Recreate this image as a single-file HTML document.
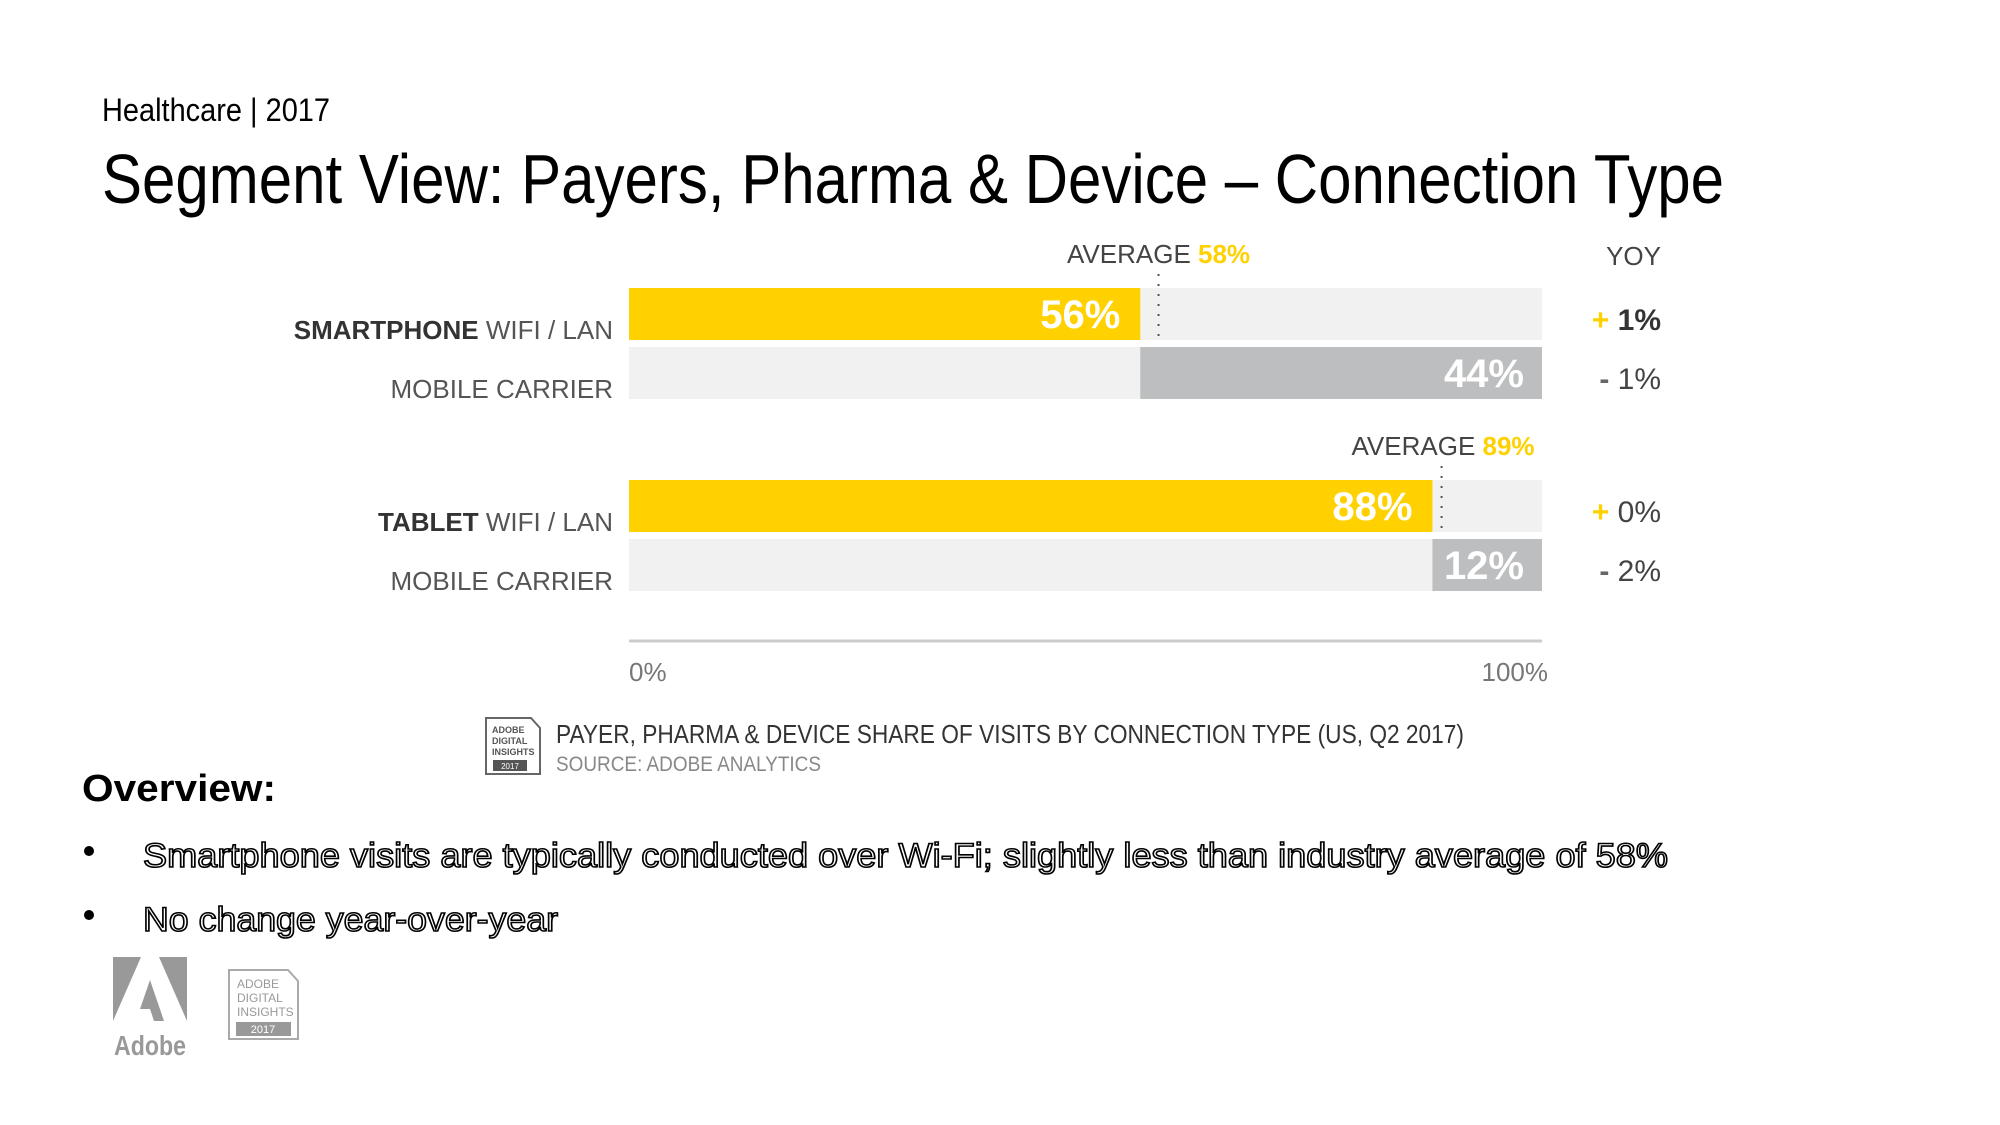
<!DOCTYPE html>
<html><head><meta charset="utf-8"><style>
html,body{margin:0;padding:0;background:#fff;}
svg{display:block;font-family:"Liberation Sans",sans-serif;}
</style></head><body>
<svg id="chart" width="2000" height="1125" viewBox="0 0 2000 1125" xmlns="http://www.w3.org/2000/svg">
<text x="102" y="121" font-size="32" fill="#000" textLength="228" lengthAdjust="spacingAndGlyphs">Healthcare | 2017</text>
<text x="102" y="203" font-size="70" fill="#000" textLength="1622" lengthAdjust="spacingAndGlyphs">Segment View: Payers, Pharma &amp; Device – Connection Type</text>
<text x="1661" y="265" font-size="26" fill="#444" text-anchor="end">YOY</text>
<g id="bars"></g>
<line x1="629" y1="641" x2="1542" y2="641" stroke="#ccc" stroke-width="3"/>
<g id="ticks"></g>
<g>
<path d="M486 718 H531 L540 728 V774 H486 Z" fill="#fff" stroke="#666" stroke-width="2"/>
<text x="492" y="733" font-size="9" font-weight="bold" fill="#555">ADOBE</text>
<text x="492" y="744" font-size="9" font-weight="bold" fill="#555">DIGITAL</text>
<text x="492" y="755" font-size="9" font-weight="bold" fill="#555">INSIGHTS</text>
<rect x="493" y="760" width="34" height="11" fill="#555"/>
<text x="510" y="769" font-size="8" fill="#fff" text-anchor="middle">2017</text>
</g>
<text x="556" y="743" font-size="26" fill="#333" textLength="908" lengthAdjust="spacingAndGlyphs">PAYER, PHARMA &amp; DEVICE SHARE OF VISITS BY CONNECTION TYPE (US, Q2 2017)</text>
<text x="556" y="771" font-size="21" fill="#888" textLength="265" lengthAdjust="spacingAndGlyphs">SOURCE: ADOBE ANALYTICS</text>
<text x="82" y="801" font-size="38" font-weight="bold" fill="#000" textLength="194" lengthAdjust="spacingAndGlyphs">Overview:</text>
<circle cx="89" cy="851" r="5" fill="#000"/>
<text x="143" y="867" font-size="34" fill="#fff" stroke="#000" stroke-width="1.6" textLength="1525" lengthAdjust="spacingAndGlyphs">Smartphone visits are typically conducted over Wi-Fi; slightly less than industry average of 58%</text>
<circle cx="89" cy="915" r="5" fill="#000"/>
<text x="143" y="931" font-size="34" fill="#fff" stroke="#000" stroke-width="1.6" textLength="415" lengthAdjust="spacingAndGlyphs">No change year-over-year</text>
<g transform="translate(0,-10)">
<polygon points="113,967 141,967 113,1031" fill="#999"/>
<polygon points="159,967 187,967 187,1031" fill="#999"/>
<polygon points="150,990 164,1031 154,1031 150,1019 140,1019 150,990" fill="#999"/>
<text x="150" y="1065" font-size="28" font-weight="bold" fill="#999" text-anchor="middle" textLength="72" lengthAdjust="spacingAndGlyphs">Adobe</text>
</g>
<g transform="translate(-2,-10)">
<path d="M231 980 H290 L300 991 V1049 H231 Z" fill="#fff" stroke="#aaa" stroke-width="2"/>
<text x="239" y="998" font-size="12" fill="#999">ADOBE</text>
<text x="239" y="1012" font-size="12" fill="#999">DIGITAL</text>
<text x="239" y="1026" font-size="12" fill="#999">INSIGHTS</text>
<rect x="238" y="1032" width="55" height="14" fill="#999"/>
<text x="265" y="1043" font-size="11" fill="#fff" text-anchor="middle">2017</text>
</g>
</svg>
<script>
const categories = ["SMARTPHONE", "TABLET"];
const wifiValues = [56, 88];
const carrierValues = [44, 12];
const averages = [58, 89];
const yoyWifi = ["+1%", "+0%"];
const yoyCarrier = ["-1%", "-2%"];
const tickLabels = ["0%", "100%"];
const tickValues = [0, 100];

const NS = "http://www.w3.org/2000/svg";
const X0 = 629, X1 = 1542;
function x(v){ return X0 + (X1 - X0) * v / 100; }
const groupTop = [288, 480];
const barH = 52, gap = 7;
const bars = document.getElementById('bars');
function mk(tag, attrs, text){
  const e = document.createElementNS(NS, tag);
  for (const k in attrs) e.setAttribute(k, attrs[k]);
  if (text !== undefined) e.textContent = text;
  bars.appendChild(e);
  return e;
}
categories.forEach((cat, i) => {
  const y1 = groupTop[i], y2 = y1 + barH + gap;
  let e;
  e = mk('rect', {x: X0, y: y1, width: X1 - X0, height: barH, fill: '#f0f1f0'});
  
  
  e = mk('rect', {x: X0, y: y1, width: x(wifiValues[i]) - X0, height: barH, fill: '#ffd100'});
  
  
  e = mk('text', {x: x(wifiValues[i]) - 20, y: y1 + 40, 'font-size': 40, 'font-weight': 'bold', fill: '#fff', 'text-anchor': 'end'}, wifiValues[i] + '%');
  
  
  e = mk('rect', {x: X0, y: y2, width: X1 - X0, height: barH, fill: '#f0f1f0'});
  
  
  e = mk('rect', {x: x(100 - carrierValues[i]), y: y2, width: X1 - x(100 - carrierValues[i]), height: barH, fill: '#bdbebf'});
  
  
  e = mk('text', {x: X1 - 18, y: y2 + 40, 'font-size': 40, 'font-weight': 'bold', fill: '#fff', 'text-anchor': 'end'}, carrierValues[i] + '%');
  
  
  e = mk('text', {x: 613, y: y1 + 51, 'font-size': 26, fill: '#555', 'text-anchor': 'end'});
  
  
  const b = document.createElementNS(NS, 'tspan'); b.setAttribute('font-weight', 'bold'); b.setAttribute('fill', '#333'); b.textContent = cat + ' ';
  const t = document.createElementNS(NS, 'tspan'); t.textContent = 'WIFI / LAN';
  e.appendChild(b); e.appendChild(t);
  e = mk('text', {x: 613, y: y2 + 51, 'font-size': 26, fill: '#555', 'text-anchor': 'end'}, 'MOBILE CARRIER');
  
  
  const ax = x(averages[i]);
  e = mk('line', {x1: ax, y1: y1 - 14, x2: ax, y2: y1 + barH, stroke: '#555', 'stroke-width': 2, 'stroke-dasharray': '2 8'});
  
  
  e = mk('text', {x: i === 0 ? ax : Math.min(ax + 93, X1), y: y1 - 25, 'font-size': 26, fill: '#444', 'text-anchor': i === 0 ? 'middle' : 'end'});
  
  
  const a1 = document.createElementNS(NS, 'tspan'); a1.textContent = 'AVERAGE ';
  const a2 = document.createElementNS(NS, 'tspan'); a2.setAttribute('fill', '#ffd100'); a2.setAttribute('font-weight', 'bold'); a2.textContent = averages[i] + '%';
  e.appendChild(a1); e.appendChild(a2);
  [[yoyWifi[i], y1], [yoyCarrier[i], y2]].forEach(([v, yy], j) => {
    e = mk('text', {x: 1661, y: yy + 42, 'font-size': 30, fill: '#444', 'text-anchor': 'end'});
    
    
    const s = document.createElementNS(NS, 'tspan');
    s.setAttribute('fill', v[0] === '+' ? '#ffd100' : '#666');
    s.setAttribute('font-weight', 'bold');
    s.textContent = (v[0] === '+' ? '+' : '-') + ' ';
    const n = document.createElementNS(NS, 'tspan');
    if (i === 0 && j === 0) { n.setAttribute('font-weight', 'bold'); n.setAttribute('fill', '#333'); }
    n.textContent = v.slice(1);
    e.appendChild(s); e.appendChild(n);
  });
});
const ticks = document.getElementById('ticks');
tickValues.forEach((v, i) => {
  const e = document.createElementNS(NS, 'text');
  e.setAttribute('x', x(v) + (i === 0 ? 0 : 6));
  e.setAttribute('y', 681);
  e.setAttribute('font-size', 26);
  e.setAttribute('fill', '#777');
  e.setAttribute('text-anchor', i === 0 ? 'start' : 'end');
  e.textContent = tickLabels[i];
  
  
  ticks.appendChild(e);
});
</script>
</body></html>
